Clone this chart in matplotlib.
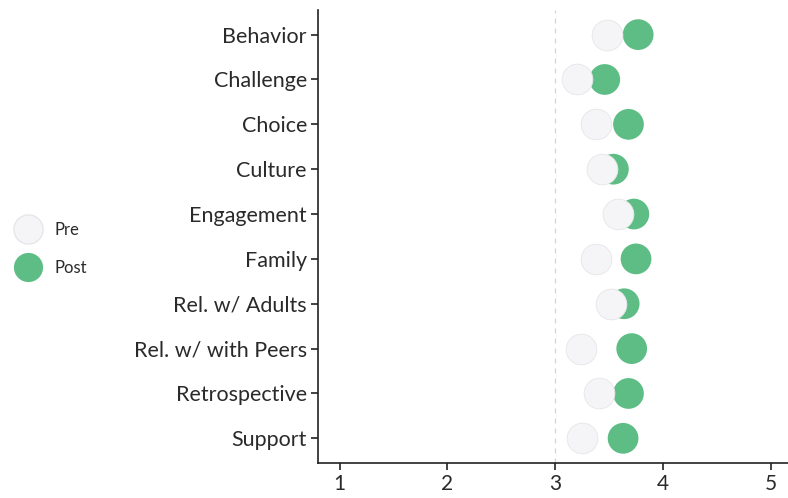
import matplotlib.pyplot as plt
from matplotlib.lines import Line2D

categories = ["Behavior", "Challenge", "Choice", "Culture", "Engagement",
              "Family", "Rel. w/ Adults", "Rel. w/ with Peers", "Retrospective", "Support"]
pre = [3.48, 3.20, 3.38, 3.43, 3.58, 3.38, 3.52, 3.24, 3.41, 3.25]
post = [3.77, 3.46, 3.68, 3.54, 3.73, 3.75, 3.64, 3.71, 3.68, 3.63]
x_ticks = [1, 2, 3, 4, 5]

post_color = "#5dbd85"
pre_color = "#f5f5f7"
pre_edge = "#e6e6ea"

plt.rcParams['font.family'] = ['Lato', 'DejaVu Sans']

fig = plt.figure(figsize=(7.88, 4.98), dpi=100)
ax = fig.add_axes([0.4036, 0.0703, 0.5964, 0.9097])

y = list(range(len(categories)))
ax.axvline(3, color="#d4d4d4", linestyle=(0, (4, 4)), linewidth=0.9, zorder=0)
ax.scatter(post, y, s=490, color=post_color, edgecolors="none", zorder=2)
ax.scatter(pre, y, s=490, color=pre_color, edgecolors=pre_edge, linewidths=0.6, zorder=3)

ax.set_yticks(y)
ax.set_yticklabels(categories, fontsize=15.5, color="#2a2a2a")
ax.set_xticks(x_ticks)
ax.set_xticklabels([str(t) for t in x_ticks], fontsize=15, color="#2a2a2a")
ax.set_xlim(0.8, 5.16)
ax.set_ylim(len(categories) - 0.45, -0.55)

for side in ["top", "right"]:
    ax.spines[side].set_visible(False)
for side in ["left", "bottom"]:
    ax.spines[side].set_linewidth(1.2)
    ax.spines[side].set_color("#222222")
ax.tick_params(axis="both", length=5, width=1.2, color="#222222", pad=3)

handles = [
    Line2D([], [], marker="o", linestyle="none", markersize=21, markerfacecolor=pre_color,
           markeredgecolor=pre_edge, label="Pre"),
    Line2D([], [], marker="o", linestyle="none", markersize=21, markerfacecolor=post_color,
           markeredgecolor="none", label="Post"),
]
fig.legend(handles=handles, loc="center left", bbox_to_anchor=(0.0, 0.5),
           frameon=False, fontsize=12, labelspacing=1.3, handletextpad=0.6,
           borderaxespad=0.3, labelcolor="#2a2a2a")

fig.savefig("out.png", dpi=100)
